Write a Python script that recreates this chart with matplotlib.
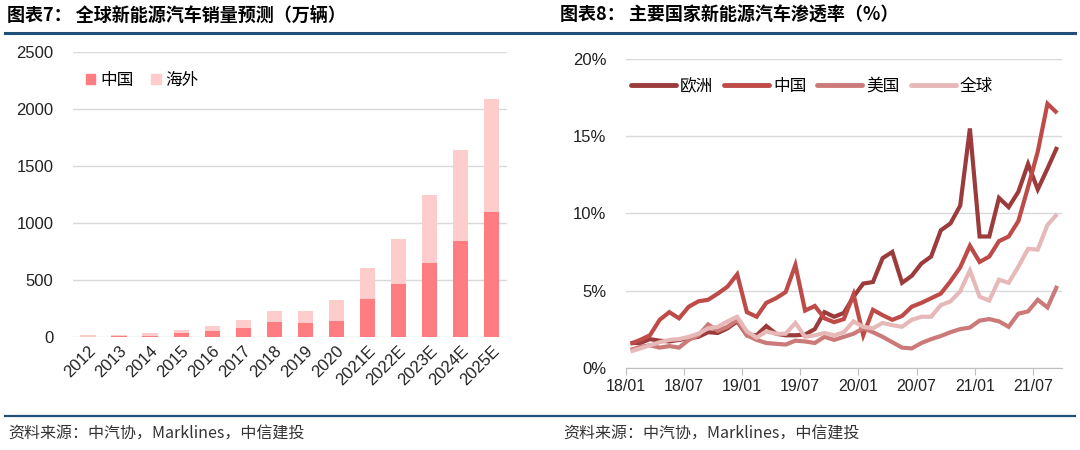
# 新能源汽车：全球销量预测 + 主要国家渗透率
import numpy as np
import matplotlib.pyplot as plt
from matplotlib.lines import Line2D
from matplotlib.patches import Patch

plt.rcParams['font.family'] = ['Liberation Sans', 'Noto Sans CJK SC', 'DejaVu Sans']

# 图表7 data (万辆)
years = ['2012', '2013', '2014', '2015', '2016', '2017', '2018', '2019', '2020',
         '2021E', '2022E', '2023E', '2024E', '2025E']
china_sales = [1, 2, 7, 33, 51, 78, 127, 121, 137, 330, 465, 650, 845, 1100]
overseas_sales = [12, 17, 26, 24, 41, 66, 95, 105, 188, 270, 395, 598, 800, 988]

# 图表8 data (%), monthly 2018/01 - 2021/09
month_ticks = ['18/01', '18/07', '19/01', '19/07', '20/01', '20/07', '21/01', '21/07']
europe = [1.6, 1.6, 1.85, 1.75, 1.7, 1.8, 1.9, 2.0, 2.3, 2.25, 2.55, 3.0,
          2.1, 2.1, 2.7, 2.2, 2.1, 2.1, 2.15, 2.5, 3.6, 3.3, 3.55, 4.6,
          5.45, 5.55, 7.1, 7.5, 5.5, 5.95, 6.75, 7.2, 8.9, 9.35, 10.5, 15.5,
          8.5, 8.5, 11.0, 10.4, 11.4, 13.2, 11.55, 12.9, 14.3]
china = [1.55, 1.8, 2.1, 3.1, 3.6, 3.2, 3.95, 4.3, 4.4, 4.8, 5.25, 6.05,
         3.6, 3.3, 4.2, 4.5, 4.9, 6.65, 3.7, 4.0, 3.2, 2.95, 3.15, 4.75,
         2.1, 3.75, 3.4, 3.1, 3.35, 3.95, 4.2, 4.5, 4.8, 5.6, 6.5, 7.9,
         6.85, 7.2, 8.2, 8.5, 9.5, 11.7, 14.0, 17.1, 16.5]
usa = [1.15, 1.35, 1.45, 1.3, 1.4, 1.3, 1.8, 2.1, 2.8, 2.4, 2.65, 3.1,
       2.1, 1.8, 1.6, 1.55, 1.5, 1.75, 1.7, 1.6, 2.0, 1.8, 2.0, 2.2,
       2.55, 2.3, 2.0, 1.65, 1.3, 1.25, 1.6, 1.85, 2.05, 2.3, 2.5, 2.6,
       3.05, 3.15, 3.0, 2.65, 3.5, 3.65, 4.4, 3.9, 5.3]
world = [1.05, 1.25, 1.45, 1.65, 1.8, 1.85, 2.0, 2.2, 2.55, 2.65, 3.0, 3.3,
         2.35, 1.95, 2.35, 2.2, 2.2, 2.9, 2.0, 2.1, 2.25, 2.1, 2.3, 3.0,
         2.65, 2.55, 2.9, 2.75, 2.65, 3.1, 3.3, 3.3, 4.05, 4.3, 4.95, 6.3,
         4.6, 4.35, 5.7, 5.5, 6.55, 7.7, 7.65, 9.25, 9.95]

fig = plt.figure(figsize=(10.8, 4.5), dpi=100)
navy = '#1F4E79'
grid_c = '#D9D9D9'

# header / footer rules and texts
fig.add_artist(Line2D([5 / 1080, 1075 / 1080], [1 - 32.5 / 450] * 2, color=navy, lw=2.2))
fig.add_artist(Line2D([5 / 1080, 1075 / 1080], [1 - 416 / 450] * 2, color=navy, lw=1.6))
fig.text(7 / 1080, 1 - 15 / 450, '图表7： 全球新能源汽车销量预测（万辆）', fontsize=13,
         fontweight='bold', va='center', family=['Noto Sans CJK SC', 'DejaVu Sans'])
fig.text(560 / 1080, 1 - 15 / 450, '图表8： 主要国家新能源汽车渗透率（%）', fontsize=13,
         fontweight='bold', va='center', family=['Noto Sans CJK SC', 'DejaVu Sans'])
src = '资料来源：中汽协，Marklines，中信建投'
fig.text(8 / 1080, 1 - 434 / 450, src, fontsize=11.5, style='italic', color='#333333', va='center',
         family=['Noto Sans CJK SC', 'DejaVu Sans'])
fig.text(563 / 1080, 1 - 434 / 450, src, fontsize=11.5, style='italic', color='#333333', va='center',
         family=['Noto Sans CJK SC', 'DejaVu Sans'])

# ---- left: stacked bars ----
ax1 = fig.add_axes([72.7 / 1080, 0.2518, 434.3 / 1080, 0.632])
x = np.arange(len(years))
ax1.bar(x, china_sales, width=0.5, color='#FF7C80', label='中国', zorder=3)
ax1.bar(x, overseas_sales, width=0.5, bottom=china_sales, color='#FFCCCC', label='海外', zorder=3)
ax1.set_xlim(-0.5, len(years) - 0.5)
ax1.set_ylim(0, 2500)
ax1.set_yticks(range(0, 2501, 500))
ax1.yaxis.grid(True, color=grid_c, lw=1)
ax1.set_axisbelow(True)
for s in ax1.spines.values():
    s.set_visible(False)
ax1.tick_params(axis='both', length=0, labelsize=12, colors='#222222')
ax1.tick_params(axis='y', pad=14)
ax1.set_xticks(x)
ax1.set_xticklabels(years, rotation=45, ha='right', va='top', rotation_mode='anchor')
ax1.tick_params(axis='x', pad=5)
handles = [Patch(color='#FF7C80'), Patch(color='#FFCCCC')]
ax1.legend(handles, ['中国', '海外'], loc='center left', bbox_to_anchor=(0.03, 0.9), ncol=2,
           frameon=False, fontsize=12, handlelength=0.55, handleheight=0.55, handletextpad=0.3,
           columnspacing=1.1, borderaxespad=0, borderpad=0)

# ---- right: penetration lines ----
ax2 = fig.add_axes([625.7 / 1080, 0.1829, 436.3 / 1080, 0.686])
m = np.arange(len(china)) + 0.5
series = [(europe, '欧洲', '#9C3B3B'), (china, '中国', '#BE4B48'),
          (usa, '美国', '#CC7A79'), (world, '全球', '#E6B9B8')]
for vals, name, col in series:
    ax2.plot(m, vals, color=col, lw=3, label=name, solid_joinstyle='miter', solid_capstyle='butt')
ax2.set_xlim(0, len(china))
ax2.set_ylim(0, 20)
ax2.set_yticks(range(0, 21, 5))
ax2.set_yticklabels([f'{v}%' for v in range(0, 21, 5)])
ax2.set_xticks(range(0, 43, 6))
ax2.set_xticklabels(month_ticks)
ax2.yaxis.grid(True, color=grid_c, lw=1)
ax2.set_axisbelow(True)
for k in ['left', 'right', 'top']:
    ax2.spines[k].set_visible(False)
ax2.spines['bottom'].set_color('#BFBFBF')
ax2.tick_params(axis='y', length=0, labelsize=12, colors='#222222', pad=14)
ax2.tick_params(axis='x', length=5, color='#BFBFBF', labelsize=11.5, colors='#222222', pad=3)
leg = ax2.legend(loc='center left', bbox_to_anchor=(0.012, 0.913), ncol=4, frameon=False,
                 fontsize=12, handlelength=2.7, handletextpad=0.25, columnspacing=0.65,
                 borderaxespad=0, borderpad=0)
for h in leg.get_lines():
    h.set_linewidth(3.5)
    h.set_solid_capstyle('round')

fig.savefig('out.png', dpi=100)
